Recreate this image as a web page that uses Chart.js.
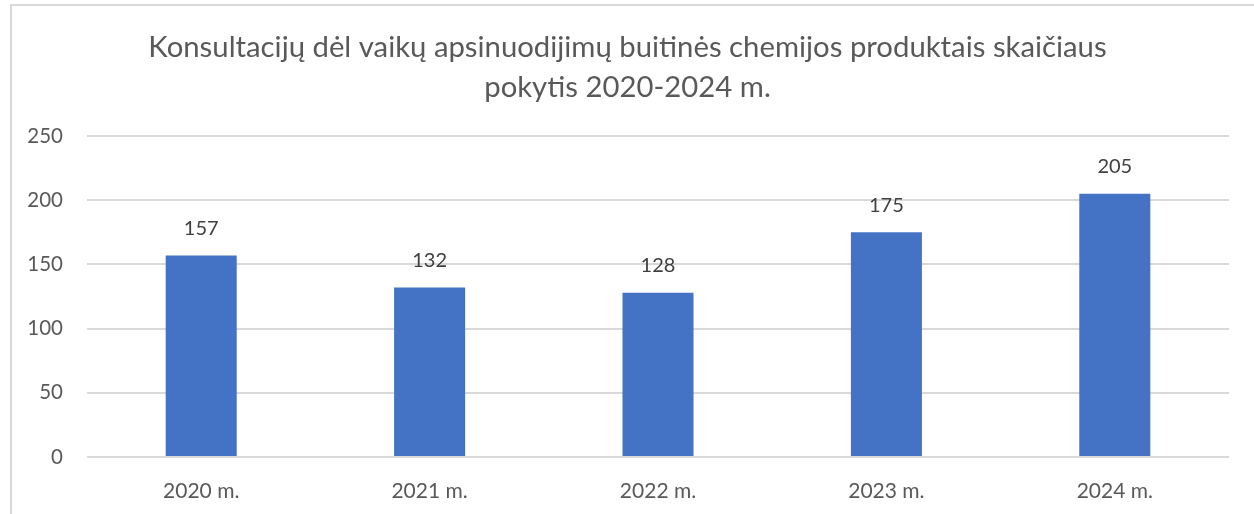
<!DOCTYPE html>
<html>
<head>
<meta charset="utf-8">
<script src="https://cdn.jsdelivr.net/npm/chart.js@4"></script>
<style>
  html, body { margin: 0; padding: 0; background: #fff; overflow: hidden; }
  #frame { position: absolute; left: 10px; top: 4px; width: 1300px; height: 600px; border: 2px solid #d9d9d9; box-sizing: border-box; }
  #wrap { position: absolute; left: 0; top: 0; width: 1254px; height: 514px; }
</style>
</head>
<body>
<div id="frame"></div>
<div id="wrap"><canvas id="chart" width="1254" height="514"></canvas></div>
<script>
// duomenys
var years = ['2020 m.', '2021 m.', '2022 m.', '2023 m.', '2024 m.'];
var consultations = [157, 132, 128, 175, 205];
var titleLines = ['Konsultacijų dėl vaikų apsinuodijimų buitinės chemijos produktais skaičiaus', 'pokytis 2020-2024 m.'];

var textColor = '#595959';
var fontName = 'Lato, "Open Sans", sans-serif';

// skaičiai virš stulpelių
var barLabels = {
  id: 'barLabels',
  afterDatasetsDraw: function(chart) {
    var ctx = chart.ctx;
    var meta = chart.getDatasetMeta(0);
    ctx.save();
    ctx.font = '20px ' + fontName;
    ctx.fillStyle = '#404040';
    ctx.textAlign = 'center';
    ctx.textBaseline = 'middle';
    meta.data.forEach(function(bar, i) {
      ctx.fillText(consultations[i], bar.x, bar.y - 27);
    });
    ctx.restore();
  }
};

var ctx = document.getElementById('chart').getContext('2d');
var chart = new Chart(ctx, {
  type: 'bar',
  data: {
    labels: years,
    datasets: [{
      data: consultations,
      backgroundColor: '#4472c4',
      borderWidth: 0,
      barPercentage: 0.311,
      categoryPercentage: 1
    }]
  },
  plugins: [barLabels],
  options: {
    responsive: false,
    animation: false,
    layout: { padding: { left: 26, right: 25, top: 0, bottom: 11 } },
    plugins: {
      legend: { display: false },
      tooltip: { enabled: false },
      title: {
        display: true,
        text: titleLines,
        color: textColor,
        font: { family: fontName, size: 29.3, weight: 'normal', lineHeight: '40px' },
        padding: { top: 28, bottom: 28 }
      }
    },
    scales: {
      x: {
        afterFit: function(scale) { scale.height = 46; },
        grid: { display: false, drawTicks: false },
        border: { display: false },
        ticks: { color: textColor, font: { family: fontName, size: 21 }, padding: 22 }
      },
      y: {
        min: 0,
        max: 250,
        afterFit: function(scale) { scale.width = 61; },
        grid: { color: '#d9d9d9', lineWidth: 2, drawTicks: false },
        border: { display: false },
        ticks: { stepSize: 50, color: textColor, font: { family: fontName, size: 20.5 }, padding: 24 }
      }
    }
  }
});
</script>
</body>
</html>
